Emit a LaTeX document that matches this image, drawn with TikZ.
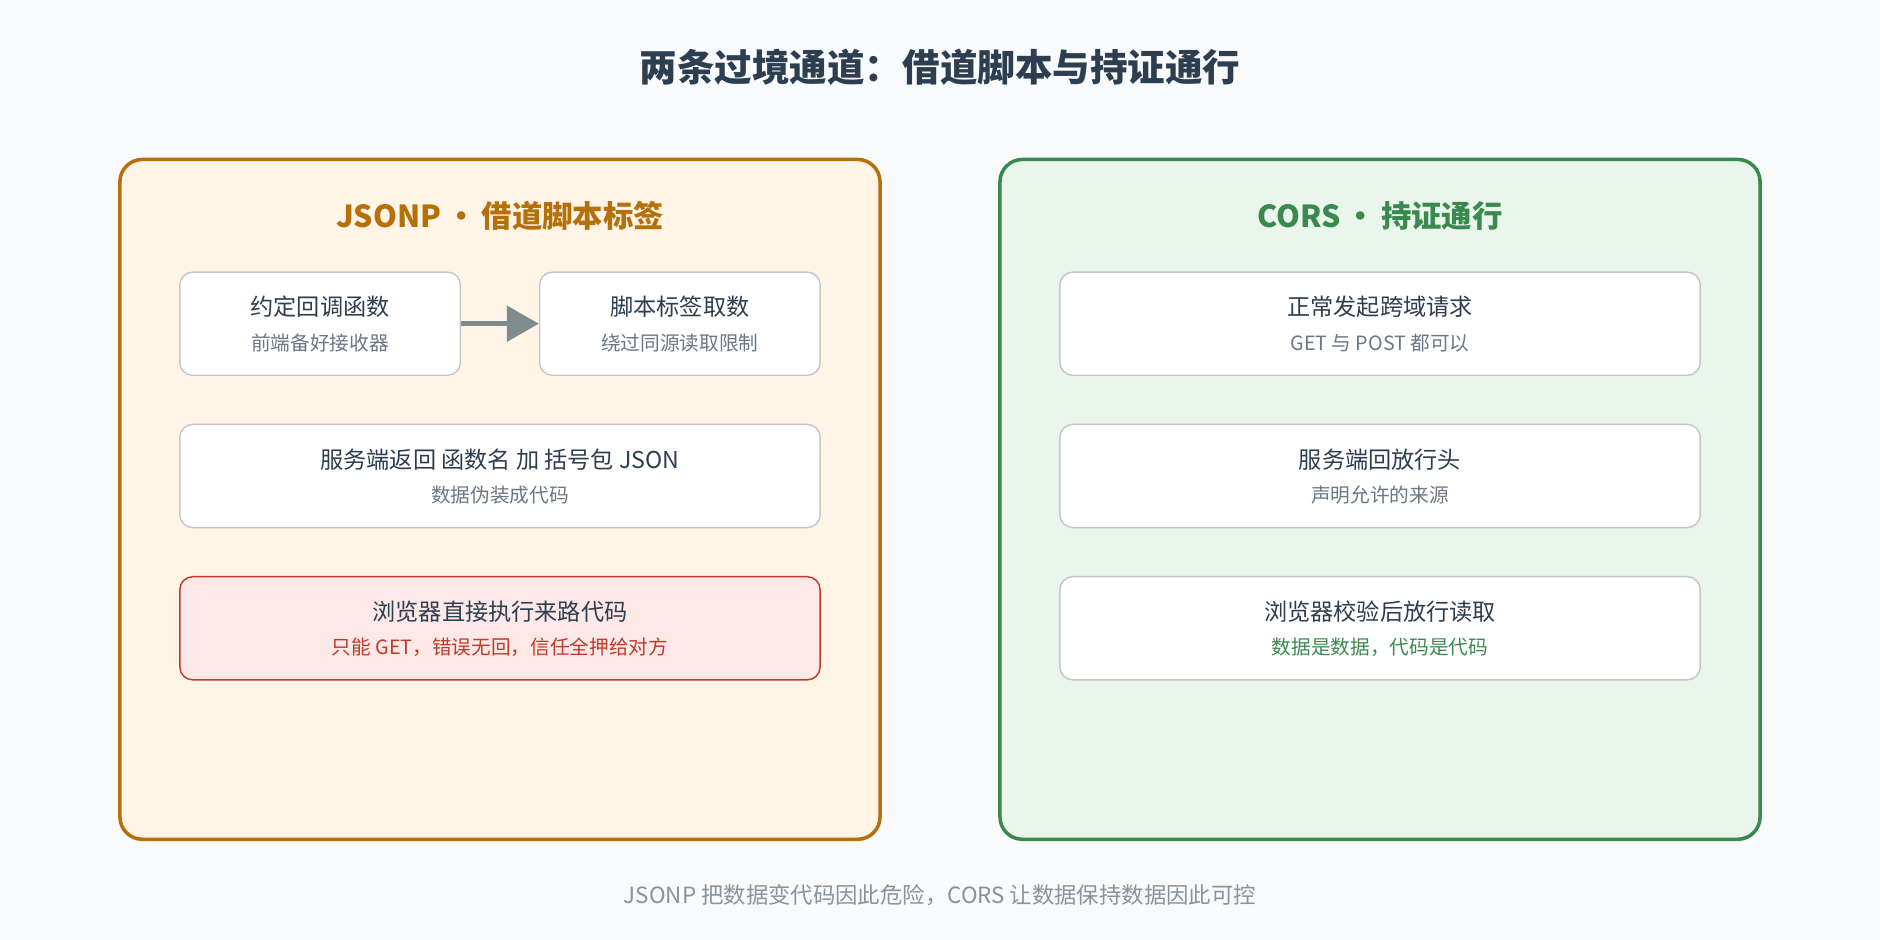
\documentclass[tikz,border=0pt]{standalone}
\usepackage{fontspec}
\setmainfont{Noto Sans CJK SC}
\usetikzlibrary{positioning}
\usetikzlibrary{arrows.meta}
\definecolor{bgcol}{HTML}{F8FAFC}
\definecolor{titlecol}{HTML}{2C3E50}
\definecolor{jsonpfill}{HTML}{FFF4E5}
\definecolor{jsonpline}{HTML}{B5700A}
\definecolor{corsfill}{HTML}{EAF6EC}
\definecolor{corsline}{HTML}{3A8A4F}
\definecolor{boxline}{HTML}{C0C8CC}
\definecolor{subcol}{HTML}{6B7785}
\definecolor{warnfill}{HTML}{FDE8E8}
\definecolor{warnline}{HTML}{C0392B}
\definecolor{arrowcol}{HTML}{7F8C8D}
\tikzset{panel/.style={rectangle,rounded corners=14pt,line width=2.2pt}}
\tikzset{flowbox/.style={rectangle,rounded corners=8pt,draw=boxline,fill=white,
line width=0.9pt,minimum height=64.5pt,inner sep=0pt}}
\tikzset{flowmain/.style={font=\fontsize{14.5}{17}\selectfont,text=titlecol}}
\tikzset{flowsub/.style={font=\fontsize{12.3}{15}\selectfont,text=subcol}}

\begin{document}
\begin{tikzpicture}[x=0.75pt,y=-0.75pt]
        \fill[bgcol] (0,0) rectangle (1568,784);
        \useasboundingbox (0,0) rectangle (1568,784);

        \node[font=\fontsize{23.5}{28}\selectfont\bfseries,text=titlecol] (title) at (784,56) {两条过境通道：借道脚本与持证通行};

        % two panels
        \draw[panel,draw=jsonpline,fill=jsonpfill] (100,133) rectangle (734,700);
        \draw[panel,draw=corsline,fill=corsfill] (834,133) rectangle (1468,700);
        \node[font=\fontsize{19}{23}\selectfont\bfseries,text=jsonpline] (jsonphead) at (417,180) {JSONP\,•\,借道脚本标签};
        \node[font=\fontsize{19}{23}\selectfont\bfseries,text=corsline] (corshead) at (1151,180) {CORS\,•\,持证通行};

        % JSONP steps
        \node[flowbox,minimum width=175.5pt] (boxA) at (267,270) {};
        \node[flowbox,minimum width=175.5pt] (boxB) at (567,270) {};
        \node[flowbox,minimum width=400.5pt] (boxC) at (417,397) {};
        \node[flowbox,minimum width=400.5pt,draw=warnline,fill=warnfill] (boxD) at (417,524) {};
        \draw [line width=3pt,arrowcol,-{Triangle[length=20pt,width=22pt]}] (boxA.east) -- (boxB.west);

        \node[flowmain] (boxAt) at ([yshift=10.5pt]boxA) {约定回调函数};
        \node[flowsub] (boxAs) at ([yshift=-12pt]boxA) {前端备好接收器};
        \node[flowmain] (boxBt) at ([yshift=10.5pt]boxB) {脚本标签取数};
        \node[flowsub] (boxBs) at ([yshift=-12pt]boxB) {绕过同源读取限制};
        \node[flowmain] (boxCt) at ([yshift=10.5pt]boxC) {服务端返回 函数名 加 括号包 JSON};
        \node[flowsub] (boxCs) at ([yshift=-12pt]boxC) {数据伪装成代码};
        \node[flowmain] (boxDt) at ([yshift=10.5pt]boxD) {浏览器直接执行来路代码};
        \node[flowsub,text=warnline] (boxDs) at ([yshift=-12pt]boxD) {只能 GET，错误无回，信任全押给对方};

        % CORS steps
        \node[flowbox,minimum width=400.5pt] (boxE) at (1151,270) {};
        \node[flowbox,minimum width=400.5pt] (boxF) at (1151,397) {};
        \node[flowbox,minimum width=400.5pt] (boxG) at (1151,524) {};

        \node[flowmain] (boxEt) at ([yshift=10.5pt]boxE) {正常发起跨域请求};
        \node[flowsub] (boxEs) at ([yshift=-12pt]boxE) {GET 与 POST 都可以};
        \node[flowmain] (boxFt) at ([yshift=10.5pt]boxF) {服务端回放行头};
        \node[flowsub] (boxFs) at ([yshift=-12pt]boxF) {声明允许的来源};
        \node[flowmain] (boxGt) at ([yshift=10.5pt]boxG) {浏览器校验后放行读取};
        \node[flowsub,text=corsline] (boxGs) at ([yshift=-12pt]boxG) {数据是数据，代码是代码};

        \node[font=\fontsize{14}{17}\selectfont,text=subcol!80] (footer) at (784,747) {JSONP 把数据变代码因此危险，CORS 让数据保持数据因此可控};
\end{tikzpicture}
\end{document}
